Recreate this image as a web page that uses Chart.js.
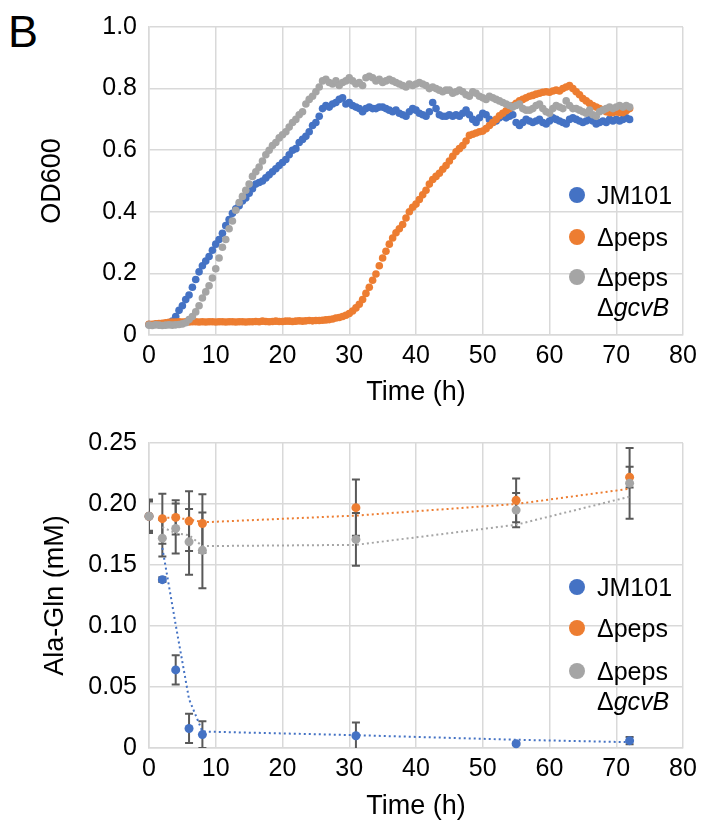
<!DOCTYPE html>
<html>
<head>
<meta charset="utf-8">
<script src="https://cdn.jsdelivr.net/npm/chart.js@4.4.1/dist/chart.umd.min.js"></script>
<style>
  body { margin: 0; width: 706px; height: 823px; background: #fff; position: relative; overflow: hidden;
         font-family: "Liberation Sans", Arial, sans-serif; color: #000; }
  canvas { position: absolute; left: 0; }
  #growth { top: 0; }
  #alagln { top: 412px; }
  .panel { position: absolute; left: 8px; top: 9px; font-size: 45px; line-height: 45px; }
  .item { position: absolute; left: 569px; font-size: 25px; line-height: 30px; white-space: nowrap; }
  .dot { position: absolute; left: 0; top: 7px; width: 16px; height: 16px; border-radius: 50%; }
  .label { position: absolute; left: 28px; top: 0; }
</style>
</head>
<body>
<div class="panel">B</div>
<canvas id="growth" width="706" height="412"></canvas>
<canvas id="alagln" width="706" height="411"></canvas>

<div class="item" style="top:180px"><span class="dot" style="background:#4472C4"></span><span class="label">JM101</span></div>
<div class="item" style="top:222px"><span class="dot" style="background:#ED7D31"></span><span class="label">Δpeps</span></div>
<div class="item" style="top:262px"><span class="dot" style="background:#A5A5A5"></span><span class="label">Δpeps<br>Δ<i>gcvB</i></span></div>

<div class="item" style="top:572px"><span class="dot" style="background:#4472C4"></span><span class="label">JM101</span></div>
<div class="item" style="top:613px"><span class="dot" style="background:#ED7D31"></span><span class="label">Δpeps</span></div>
<div class="item" style="top:656px"><span class="dot" style="background:#A5A5A5"></span><span class="label">Δpeps<br>Δ<i>gcvB</i></span></div>

<script>
// growth curve, OD600 read every 0.5 h
const times = [
  0, 0.5, 1, 1.5, 2, 2.5, 3, 3.5, 4, 4.5,
  5, 5.5, 6, 6.5, 7, 7.5, 8, 8.5, 9, 9.5,
  10, 10.5, 11, 11.5, 12, 12.5, 13, 13.5, 14, 14.5,
  15, 15.5, 16, 16.5, 17, 17.5, 18, 18.5, 19, 19.5,
  20, 20.5, 21, 21.5, 22, 22.5, 23, 23.5, 24, 24.5,
  25, 25.5, 26, 26.5, 27, 27.5, 28, 28.5, 29, 29.5,
  30, 30.5, 31, 31.5, 32, 32.5, 33, 33.5, 34, 34.5,
  35, 35.5, 36, 36.5, 37, 37.5, 38, 38.5, 39, 39.5,
  40, 40.5, 41, 41.5, 42, 42.5, 43, 43.5, 44, 44.5,
  45, 45.5, 46, 46.5, 47, 47.5, 48, 48.5, 49, 49.5,
  50, 50.5, 51, 51.5, 52, 52.5, 53, 53.5, 54, 54.5,
  55, 55.5, 56, 56.5, 57, 57.5, 58, 58.5, 59, 59.5,
  60, 60.5, 61, 61.5, 62, 62.5, 63, 63.5, 64, 64.5,
  65, 65.5, 66, 66.5, 67, 67.5, 68, 68.5, 69, 69.5,
  70, 70.5, 71, 71.5, 72
];

const odJM101 = [
  0.034, 0.033, 0.035, 0.034, 0.035, 0.035, 0.036, 0.045, 0.060, 0.080,
  0.095, 0.115, 0.130, 0.155, 0.180, 0.205, 0.225, 0.240, 0.255, 0.275,
  0.295, 0.310, 0.330, 0.355, 0.375, 0.395, 0.410, 0.420, 0.435, 0.445,
  0.460, 0.475, 0.490, 0.495, 0.500, 0.510, 0.520, 0.530, 0.540, 0.550,
  0.560, 0.570, 0.585, 0.600, 0.605, 0.625, 0.635, 0.645, 0.660, 0.680,
  0.690, 0.710, 0.735, 0.745, 0.740, 0.750, 0.755, 0.765, 0.770, 0.750,
  0.755, 0.745, 0.740, 0.735, 0.725, 0.735, 0.740, 0.735, 0.735, 0.740,
  0.740, 0.735, 0.730, 0.725, 0.730, 0.720, 0.715, 0.710, 0.725, 0.735,
  0.730, 0.720, 0.715, 0.710, 0.725, 0.755, 0.735, 0.715, 0.710, 0.710,
  0.715, 0.710, 0.715, 0.710, 0.720, 0.730, 0.715, 0.700, 0.690, 0.705,
  0.720, 0.715, 0.700, 0.690, 0.695, 0.705, 0.710, 0.705, 0.710, 0.715,
  0.690, 0.680, 0.690, 0.700, 0.695, 0.690, 0.695, 0.700, 0.690, 0.685,
  0.695, 0.705, 0.700, 0.695, 0.690, 0.685, 0.700, 0.705, 0.700, 0.695,
  0.690, 0.695, 0.700, 0.695, 0.685, 0.690, 0.695, 0.690, 0.700, 0.695,
  0.700, 0.695, 0.700, 0.705, 0.700
];

const odPeps = [
  0.035, 0.035, 0.036, 0.037, 0.038, 0.040, 0.041, 0.042, 0.042, 0.043,
  0.042, 0.043, 0.042, 0.043, 0.043, 0.042, 0.043, 0.042, 0.043, 0.043,
  0.042, 0.043, 0.043, 0.042, 0.043, 0.043, 0.042, 0.043, 0.043, 0.042,
  0.043, 0.043, 0.044, 0.043, 0.045, 0.044, 0.043, 0.044, 0.045, 0.044,
  0.044, 0.045, 0.045, 0.044, 0.045, 0.046, 0.045, 0.046, 0.047, 0.046,
  0.047, 0.047, 0.048, 0.049, 0.050, 0.052, 0.055, 0.057, 0.060, 0.064,
  0.070, 0.078, 0.088, 0.100, 0.115, 0.135, 0.155, 0.178, 0.198, 0.225,
  0.250, 0.272, 0.295, 0.315, 0.332, 0.345, 0.359, 0.380, 0.400, 0.415,
  0.425, 0.440, 0.455, 0.470, 0.490, 0.505, 0.515, 0.525, 0.538, 0.550,
  0.565, 0.580, 0.595, 0.605, 0.615, 0.630, 0.648, 0.652, 0.656, 0.660,
  0.662, 0.670, 0.680, 0.690, 0.700, 0.712, 0.720, 0.728, 0.735, 0.745,
  0.752, 0.760, 0.765, 0.770, 0.775, 0.778, 0.782, 0.785, 0.788, 0.790,
  0.788, 0.792, 0.795, 0.792, 0.800, 0.805, 0.810, 0.800, 0.790, 0.780,
  0.768, 0.760, 0.752, 0.745, 0.740, 0.735, 0.730, 0.725, 0.722, 0.722,
  0.725, 0.722, 0.722, 0.728, 0.735
];

const odPepsGcvB = [
  0.032, 0.031, 0.033, 0.032, 0.031, 0.032, 0.033, 0.032, 0.033, 0.034,
  0.036, 0.040, 0.050, 0.060, 0.075, 0.095, 0.120, 0.140, 0.160, 0.185,
  0.215, 0.250, 0.285, 0.310, 0.345, 0.370, 0.405, 0.430, 0.450, 0.470,
  0.490, 0.515, 0.530, 0.545, 0.565, 0.585, 0.600, 0.615, 0.625, 0.640,
  0.650, 0.660, 0.675, 0.690, 0.700, 0.715, 0.725, 0.750, 0.765, 0.775,
  0.790, 0.805, 0.825, 0.830, 0.820, 0.815, 0.825, 0.810, 0.820, 0.825,
  0.835, 0.825, 0.815, 0.820, 0.810, 0.835, 0.840, 0.835, 0.825, 0.830,
  0.820, 0.825, 0.830, 0.825, 0.820, 0.815, 0.810, 0.805, 0.815, 0.810,
  0.815, 0.820, 0.815, 0.810, 0.800, 0.805, 0.800, 0.795, 0.790, 0.795,
  0.795, 0.785, 0.790, 0.795, 0.790, 0.780, 0.775, 0.790, 0.785, 0.775,
  0.770, 0.765, 0.775, 0.770, 0.765, 0.760, 0.755, 0.750, 0.745, 0.740,
  0.745, 0.750, 0.735, 0.730, 0.730, 0.735, 0.745, 0.750, 0.735, 0.725,
  0.720, 0.735, 0.745, 0.740, 0.735, 0.760, 0.745, 0.735, 0.735, 0.730,
  0.725, 0.720, 0.730, 0.715, 0.710, 0.725, 0.730, 0.735, 0.740, 0.735,
  0.740, 0.745, 0.740, 0.745, 0.740
];

// Ala-Gln concentration, mean and error
const sampleTimes = [0, 2, 4, 6, 8, 31, 55, 72];
const agJM101 = [0.190, 0.138, 0.064, 0.016, 0.011, 0.010, 0.0035, 0.006];
const agJM101Err = [0.012, 0.002, 0.012, 0.012, 0.011, 0.011, 0.001, 0.003];
const agPeps = [0.190, 0.188, 0.189, 0.186, 0.184, 0.197, 0.203, 0.222];
const agPepsErr = [0.013, 0.0205, 0.014, 0.0245, 0.024, 0.023, 0.018, 0.0085];
const agPepsGcvB = [0.190, 0.172, 0.180, 0.169, 0.162, 0.171, 0.195, 0.217];
const agPepsGcvBErr = [0.0137, 0.015, 0.0205, 0.027, 0.031, 0.0217, 0.014, 0.029];

const odTickLabels = ['0', '0.2', '0.4', '0.6', '0.8', '1.0'];
const agTickLabels = ['0', '0.05', '0.10', '0.15', '0.20', '0.25'];
const timeTickLabels = ['0', '10', '20', '30', '40', '50', '60', '70', '80'];

const BLUE = '#4472C4', ORANGE = '#ED7D31', GRAY = '#A5A5A5';
const GRID = '#d9d9d9';
const FONT = '"Liberation Sans", Arial, sans-serif';

function points(xs, ys) {
  return xs.map((x, i) => ({ x: x, y: ys[i] }));
}

// Excel style moving average trendline, period 2
function movingAverage(xs, ys) {
  const out = [];
  for (let i = 1; i < ys.length; i++) {
    out.push({ x: xs[i], y: (ys[i - 1] + ys[i]) / 2 });
  }
  return out;
}

const errorBars = {
  id: 'errorBars',
  beforeDatasetsDraw(chart) {
    const { ctx, chartArea, scales } = chart;
    ctx.save();
    ctx.beginPath();
    ctx.rect(chartArea.left, chartArea.top, chartArea.right - chartArea.left, chartArea.bottom - chartArea.top);
    ctx.clip();
    ctx.strokeStyle = '#595959';
    ctx.lineWidth = 2;
    chart.data.datasets.forEach(ds => {
      if (!ds.errors) return;
      ds.data.forEach((p, i) => {
        const e = ds.errors[i];
        const px = scales.x.getPixelForValue(p.x);
        const top = scales.y.getPixelForValue(p.y + e);
        const bot = scales.y.getPixelForValue(p.y - e);
        ctx.beginPath();
        ctx.moveTo(px, top); ctx.lineTo(px, bot);
        ctx.moveTo(px - 4, top); ctx.lineTo(px + 4, top);
        ctx.moveTo(px - 4, bot); ctx.lineTo(px + 4, bot);
        ctx.stroke();
      });
    });
    ctx.restore();
  }
};

function makeOptions(yMax, yStep, yLabels, yTitle, yTitlePad, xHeight, xTitlePad, topPad) {
  return {
    responsive: false,
    animation: false,
    layout: { padding: { top: topPad, right: 23, left: 0, bottom: 0 } },
    plugins: { legend: { display: false }, tooltip: { enabled: false } },
    scales: {
      x: {
        type: 'linear', min: 0, max: 80,
        afterFit: s => { s.height = xHeight; },
        ticks: { stepSize: 10, padding: 6, color: '#000', font: { family: FONT, size: 25 },
                 callback: (v, i) => timeTickLabels[i] },
        grid: { color: GRID, lineWidth: 1.5, drawTicks: false },
        border: { color: GRID, width: 1.5 },
        title: { display: true, text: 'Time (h)', color: '#000', font: { family: FONT, size: 27 },
                 padding: { top: 0, bottom: xTitlePad } }
      },
      y: {
        min: 0, max: yMax,
        afterFit: s => { s.width = 149; },
        ticks: { stepSize: yStep, padding: 12, color: '#000', font: { family: FONT, size: 25 },
                 callback: (v, i) => yLabels[i] },
        grid: { color: GRID, lineWidth: 1.5, drawTicks: false },
        border: { color: GRID, width: 1.5 },
        title: { display: true, text: yTitle, color: '#000', font: { family: FONT, size: 27 },
                 padding: { top: yTitlePad, bottom: 0 } }
      }
    }
  };
}

function scatterSet(label, data, color, radius, order) {
  return {
    label: label, data: data, showLine: false, order: order, clip: false,
    pointRadius: radius, pointBackgroundColor: color, pointBorderWidth: 0,
    borderColor: color, backgroundColor: color
  };
}

function trendSet(label, data, color, order) {
  return {
    label: label, data: data, showLine: true, order: order, pointRadius: 0,
    borderColor: color, borderWidth: 2, borderDash: [2, 3], tension: 0, fill: false
  };
}

new Chart(document.getElementById('growth'), {
  type: 'scatter',
  data: {
    datasets: [
      scatterSet('JM101', points(times, odJM101), BLUE, 3.8, 3),
      scatterSet('Δpeps', points(times, odPeps), ORANGE, 3.8, 2),
      scatterSet('Δpeps ΔgcvB', points(times, odPepsGcvB), GRAY, 3.8, 1)
    ]
  },
  options: makeOptions(1, 0.2, odTickLabels, 'OD600', 36, 77, 3, 25)
});

const jm = scatterSet('JM101', points(sampleTimes, agJM101), BLUE, 4.5, 5);
jm.errors = agJM101Err;
const pe = scatterSet('Δpeps', points(sampleTimes, agPeps), ORANGE, 4.5, 3);
pe.errors = agPepsErr;
const pg = scatterSet('Δpeps ΔgcvB', points(sampleTimes, agPepsGcvB), GRAY, 4.5, 1);
pg.errors = agPepsGcvBErr;

new Chart(document.getElementById('alagln'), {
  type: 'scatter',
  data: {
    datasets: [
      jm, trendSet('JM101 trend', movingAverage(sampleTimes, agJM101), BLUE, 6),
      pe, trendSet('Δpeps trend', movingAverage(sampleTimes, agPeps), ORANGE, 4),
      pg, trendSet('Δpeps ΔgcvB trend', movingAverage(sampleTimes, agPepsGcvB), GRAY, 2)
    ]
  },
  options: makeOptions(0.25, 0.05, agTickLabels, 'Ala-Gln (mM)', 39, 75, 0, 31),
  plugins: [errorBars]
});
</script>
</body>
</html>
